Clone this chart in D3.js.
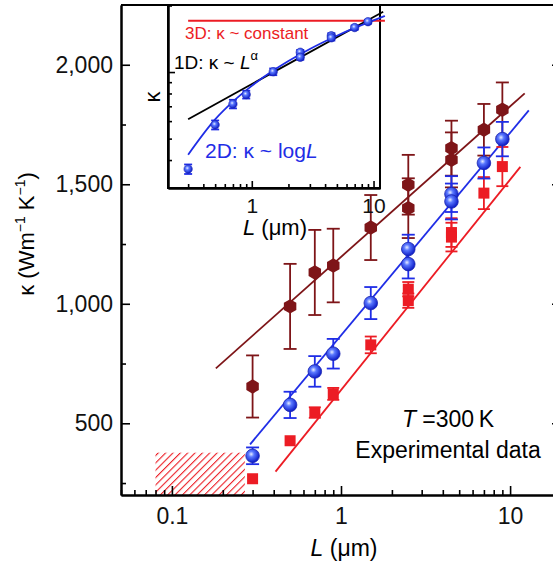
<!DOCTYPE html>
<html>
<head>
<meta charset="utf-8">
<script src="https://cdn.jsdelivr.net/npm/d3@7"></script>
<style>
  body { margin: 0; background: #fff; }
  svg { display: block; font-family: "Liberation Sans", Arial, Helvetica, sans-serif; }
</style>
</head>
<body>
<div id="chart"></div>
<script>

// Values (L in um, kappa in W m^-1 K^-1)

const lengths = [0.3, 0.5, 0.7, 0.9, 1.5, 2.5, 2.5, 4.5, 4.5, 7, 9];

const brownKappa = [654, 989, 1131, 1160, 1319, 1498, 1400, 1651, 1602, 1728, 1812];
const brownError = [130, 178, 178, 154, 136, 125, 125, 115, 115, 108, 114];

const blueKappa = [364, 577, 717, 791, 1003, 1229, 1166, 1459, 1428, 1589, 1689];
const blueError = [35, 55, 64, 62, 67, 60, 60, 75, 75, 65, 72];

const redKappa = [268, 427, 545, 623, 828, 1061, 1013, 1298, 1279, 1463, 1574];
const redError = [0, 0, 22, 25, 35, 30, 30, 60, 60, 67, 82];

// Fit lines, end points

const brownFitL = [0.182, 12.2];
const brownFitK = [730, 1880];
const blueFitL = [0.29, 12.9];
const blueFitK = [412, 1809];
const redFitL = [0.41, 11.5];
const redFitK = [298, 1573];

// Hatched region

const hatchL = [0.08, 0.27];
const hatchK = [200, 377];

// Inset (log-log)

const insetError = [18, 27, 32, 32, 35, 30, 30, 40, 40, 35, 35];
const insetLogL = [0.3, 0.5, 0.7, 1, 1.5, 2, 3, 5, 7, 10, 12.4];
const insetLogK = [423, 611, 735, 866, 1015, 1121, 1271, 1459, 1583, 1714, 1793];
const insetPowerL = [0.3, 12];
const insetPowerK = [612, 1875];
const insetConstL = [0.3, 12.4];
const insetConstK = [1706, 1706];

// Ticks

const xTicks = [0.1, 1, 10];
const yTicks = [500, 1000, 1500, 2000];
const yMinorTicks = [250, 750, 1250, 1750];
const insetXTicks = [1, 10];
const insetYTicks = [1000];

// Colors

const brown = "#7e1518";
const blue = "#1f2de6";
const red = "#ec1c24";

const width = 553, height = 568;

const svg = d3.select("#chart").append("svg")
    .attr("width", width)
    .attr("height", height);

const defs = svg.append("defs");

const grad = defs.append("radialGradient")
    .attr("id", "ball")
    .attr("cx", "40%").attr("cy", "38%").attr("r", "60%");
grad.append("stop").attr("offset", "0%").attr("stop-color", "#e8eeff");
grad.append("stop").attr("offset", "35%").attr("stop-color", "#5a78ff");
grad.append("stop").attr("offset", "100%").attr("stop-color", "#1020c8");

const hatch = defs.append("pattern")
    .attr("id", "hatch")
    .attr("patternUnits", "userSpaceOnUse")
    .attr("width", 5.2).attr("height", 5.2)
    .attr("patternTransform", "rotate(45)");
hatch.append("line")
    .attr("x1", 0).attr("y1", 0).attr("x2", 0).attr("y2", 5.2)
    .attr("stroke", red).attr("stroke-width", 2.2);

// Scales

const x = d3.scaleLog().domain([0.05, 20]).range([121, 561]);
const y = d3.scaleLinear().domain([200, 2250]).range([495, 5]);

const isMajor = v => Math.abs(Math.log10(v) - Math.round(Math.log10(v))) < 1e-6;

function styleAxis(g, size) {
    g.attr("font-family", null).attr("font-size", size);
    g.select(".domain").attr("stroke-width", 2);
    g.selectAll(".tick line").attr("stroke-width", 1.6);
    g.selectAll(".tick text").attr("fill", "#111");
}

// Hatched box

svg.append("rect")
    .attr("x", x(hatchL[0]))
    .attr("y", y(hatchK[1]))
    .attr("width", x(hatchL[1]) - x(hatchL[0]))
    .attr("height", y(hatchK[0]) - y(hatchK[1]))
    .attr("fill", "url(#hatch)");

// Add x-axis

svg.append("g")
    .attr("transform", "translate(0," + y.range()[0] + ")")
    .call(d3.axisBottom(x).tickValues(x.ticks().filter(v => !isMajor(v))).tickSize(-5).tickSizeOuter(0).tickFormat(""))
    .call(g => styleAxis(g, 23));

svg.append("g")
    .attr("transform", "translate(0," + y.range()[0] + ")")
    .call(d3.axisBottom(x).tickValues(xTicks).tickSize(-9).tickSizeOuter(0).tickPadding(13).tickFormat(d => d))
    .call(g => styleAxis(g, 23));

// Add y-axis

svg.append("g")
    .attr("transform", "translate(" + x.range()[0] + ",0)")
    .call(d3.axisLeft(y).tickValues(yMinorTicks).tickSize(-5).tickSizeOuter(0).tickFormat(""))
    .call(g => styleAxis(g, 23));

svg.append("g")
    .attr("transform", "translate(" + x.range()[0] + ",0)")
    .call(d3.axisLeft(y).tickValues(yTicks).tickSize(-9).tickSizeOuter(0).tickPadding(8).tickFormat(d3.format(",")))
    .call(g => styleAxis(g, 23));

// Right axis and top frame

svg.append("g")
    .attr("transform", "translate(" + x.range()[1] + ",0)")
    .call(d3.axisRight(y).tickValues(yTicks).tickSize(-9).tickSizeOuter(0).tickFormat(""))
    .call(g => styleAxis(g, 23));

svg.append("line")
    .attr("x1", x.range()[0]).attr("x2", x.range()[1])
    .attr("y1", y.range()[1]).attr("y2", y.range()[1])
    .attr("stroke", "#000").attr("stroke-width", 2);

// Fit lines

const fitLine = d3.line().x(d => x(d[0])).y(d => y(d[1]));

[[brownFitL, brownFitK, brown], [blueFitL, blueFitK, blue], [redFitL, redFitK, red]].forEach(([ls, ks, color]) => {
    svg.append("path")
        .attr("d", fitLine(d3.zip(ls, ks)))
        .attr("fill", "none")
        .attr("stroke", color)
        .attr("stroke-width", 1.8);
});

// Markers with error bars

function hexagon(r) {
    const pts = d3.range(6).map(i => {
        const a = Math.PI / 3 * i - Math.PI / 2;
        return [r * Math.cos(a), r * Math.sin(a)];
    });
    return "M" + pts.join("L") + "Z";
}

function addSeries(g, xs, ys, kappa, err, color, cap, marker) {
    const rows = d3.zip(lengths, kappa, err);
    const bars = g.append("g").attr("stroke", color).attr("stroke-width", 1.8);
    rows.filter(r => r[2] > 0).forEach(([l, k, e]) => {
        const cx = xs(l);
        bars.append("line").attr("x1", cx).attr("x2", cx).attr("y1", ys(k - e)).attr("y2", ys(k + e));
        bars.append("line").attr("x1", cx - cap).attr("x2", cx + cap).attr("y1", ys(k - e)).attr("y2", ys(k - e));
        bars.append("line").attr("x1", cx - cap).attr("x2", cx + cap).attr("y1", ys(k + e)).attr("y2", ys(k + e));
    });
    rows.forEach(([l, k]) => marker(g, xs(l), ys(k)));
}

addSeries(svg, x, y, brownKappa, brownError, brown, 6.5, (g, cx, cy) =>
    g.append("path").attr("d", hexagon(7.2)).attr("transform", `translate(${cx},${cy})`).attr("fill", brown));

addSeries(svg, x, y, redKappa, redError, red, 6, (g, cx, cy) =>
    g.append("rect").attr("x", cx - 5.5).attr("y", cy - 5.5).attr("width", 11).attr("height", 11).attr("fill", red));

addSeries(svg, x, y, blueKappa, blueError, blue, 6.5, (g, cx, cy) =>
    g.append("circle").attr("cx", cx).attr("cy", cy).attr("r", 6.8).attr("fill", "url(#ball)").attr("stroke", "#1a24b0").attr("stroke-width", 0.8));

// Annotations

const note = svg.append("text")
    .attr("x", 448).attr("y", 427)
    .attr("text-anchor", "middle")
    .attr("font-size", 23);
note.append("tspan").attr("font-style", "italic").text("T");
note.append("tspan").text(" =300\u2009K");

svg.append("text")
    .attr("x", 448).attr("y", 458)
    .attr("text-anchor", "middle")
    .attr("font-size", 23)
    .text("Experimental data");

const xLabel = svg.append("text")
    .attr("x", 344).attr("y", 556)
    .attr("text-anchor", "middle")
    .attr("font-size", 23);
xLabel.append("tspan").attr("font-style", "italic").text("L");
xLabel.append("tspan").text(" (\u03bcm)");

const yLabel = svg.append("text")
    .attr("transform", "translate(34,234) rotate(-90)")
    .attr("text-anchor", "middle")
    .attr("font-size", 22);
yLabel.append("tspan").text("\u03ba (Wm");
yLabel.append("tspan").attr("font-size", 14).attr("dy", -9).text("\u22121");
yLabel.append("tspan").attr("dy", 9).text(" K");
yLabel.append("tspan").attr("font-size", 14).attr("dy", -9).text("\u22121");
yLabel.append("tspan").attr("dy", 9).text(")");

// Inset

const ix = d3.scaleLog().domain([0.205, 11.3]).range([168, 380]);
const iy = d3.scaleLog().domain([299, 2010]).range([188, 5]);

const inset = svg.append("g");

inset.append("rect")
    .attr("x", ix.range()[0]).attr("y", iy.range()[1])
    .attr("width", ix.range()[1] - ix.range()[0])
    .attr("height", iy.range()[0] - iy.range()[1])
    .attr("fill", "#fff");

inset.append("g")
    .attr("transform", "translate(0," + iy.range()[0] + ")")
    .call(d3.axisBottom(ix).tickValues(ix.ticks().filter(v => !isMajor(v))).tickSize(-4).tickSizeOuter(0).tickFormat(""))
    .call(g => styleAxis(g, 21));

inset.append("g")
    .attr("transform", "translate(0," + iy.range()[0] + ")")
    .call(d3.axisBottom(ix).tickValues(insetXTicks).tickSize(-7).tickSizeOuter(0).tickPadding(10).tickFormat(d => d))
    .call(g => styleAxis(g, 21));

inset.append("g")
    .attr("transform", "translate(" + ix.range()[0] + ",0)")
    .call(d3.axisLeft(iy).tickValues(iy.ticks().filter(v => !isMajor(v))).tickSize(-4).tickSizeOuter(0).tickFormat(""))
    .call(g => styleAxis(g, 21));

inset.append("g")
    .attr("transform", "translate(" + ix.range()[0] + ",0)")
    .call(d3.axisLeft(iy).tickValues(insetYTicks).tickSize(-7).tickSizeOuter(0).tickFormat(""))
    .call(g => styleAxis(g, 21));

inset.append("rect")
    .attr("x", ix.range()[0]).attr("y", iy.range()[1])
    .attr("width", ix.range()[1] - ix.range()[0])
    .attr("height", iy.range()[0] - iy.range()[1])
    .attr("fill", "none")
    .attr("stroke", "#000")
    .attr("stroke-width", 2);

const insetLine = d3.line().x(d => ix(d[0])).y(d => iy(d[1]));

inset.append("path")
    .attr("d", insetLine(d3.zip(insetConstL, insetConstK)))
    .attr("fill", "none").attr("stroke", red).attr("stroke-width", 2);

inset.append("path")
    .attr("d", insetLine(d3.zip(insetPowerL, insetPowerK)))
    .attr("fill", "none").attr("stroke", "#000").attr("stroke-width", 1.8);

inset.append("path")
    .attr("d", insetLine.curve(d3.curveMonotoneX)(d3.zip(insetLogL, insetLogK)))
    .attr("fill", "none").attr("stroke", blue).attr("stroke-width", 1.8);

addSeries(inset, ix, iy, blueKappa, insetError, blue, 4, (g, cx, cy) =>
    g.append("circle").attr("cx", cx).attr("cy", cy).attr("r", 4.2).attr("fill", "url(#ball)").attr("stroke", "#1a24b0").attr("stroke-width", 0.6));

// Inset labels

const t3 = inset.append("text")
    .attr("x", 185).attr("y", 39)
    .attr("font-size", 17)
    .attr("fill", red)
    .text("3D: \u03ba ~ constant");

const t1 = inset.append("text")
    .attr("x", 174).attr("y", 69)
    .attr("font-size", 19)
    .attr("fill", "#000");
t1.append("tspan").text("1D: \u03ba ~ ");
t1.append("tspan").attr("font-style", "italic").text("L");
t1.append("tspan").attr("font-size", 13).attr("dy", -9).text("\u03b1");

const t2 = inset.append("text")
    .attr("x", 205).attr("y", 158)
    .attr("font-size", 21)
    .attr("fill", blue);
t2.append("tspan").text("2D: \u03ba ~ log");
t2.append("tspan").attr("font-style", "italic").text("L");

inset.append("text")
    .attr("transform", "translate(160,97) rotate(-90)")
    .attr("text-anchor", "middle")
    .attr("font-size", 22)
    .text("\u03ba");

const ixLabel = inset.append("text")
    .attr("x", 275).attr("y", 235)
    .attr("text-anchor", "middle")
    .attr("font-size", 22);
ixLabel.append("tspan").attr("font-style", "italic").text("L");
ixLabel.append("tspan").text(" (\u03bcm)");

</script>
</body>
</html>
